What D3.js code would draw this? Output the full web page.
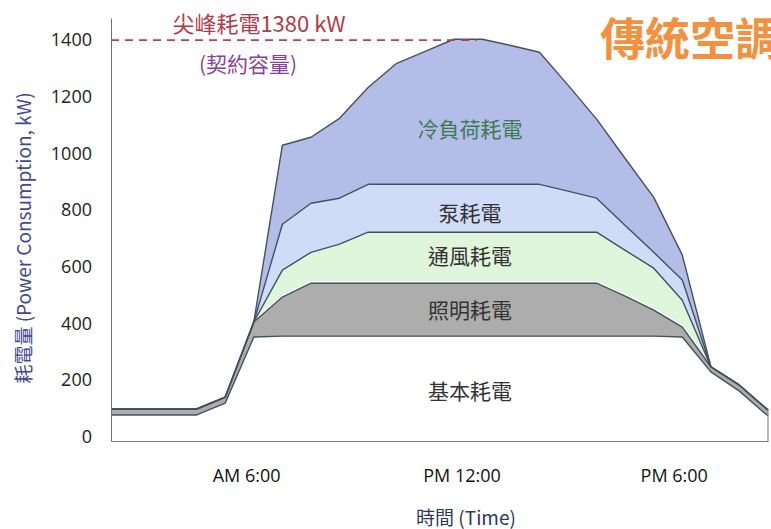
<!DOCTYPE html>
<html>
<head>
    <meta charset="utf-8" />
    <title>傳統空調 耗電</title>
    <script src="https://d3js.org/d3.v7.min.js"></script>
    <style>
    body { margin: 0; background: #fff; }
    svg { display: block; font-family: "Open Sans", "Noto Sans CJK TC", sans-serif; }
    .cjk { font-family: "Noto Sans CJK TC", "Open Sans", sans-serif; }
    </style>
</head>
<body>
<svg id="chart" width="771" height="529"></svg>
<script>
// hourly sample slots along the day (0 .. 23)
var slots = [0,1,2,3,4,5,6,7,8,9,10,11,12,13,14,15,16,17,18,19,20,21,22,23];

// kW per layer
var baseLoad    = [77,77,77,77,119,352,355,355,355,355,355,355,355,355,355,355,355,355,355,355,352,229,161,73];
var lighting    = [21,21,21,21,21,53,138,187,187,187,187,187,187,187,187,187,187,187,141,92,35,18,21,21];
var ventilation = [0,0,0,0,0,0,95,109,138,180,180,180,180,180,180,180,180,180,162,148,95,0,0,0];
var pump        = [0,0,0,0,0,0,162,173,162,169,169,169,169,169,169,169,145,120,88,56,71,0,0,0];
var cooling     = [0,0,0,0,0,0,279,233,282,342,427,469,512,512,490,466,374,279,236,194,88,0,0,0];

var layerKeys   = ["base", "light", "vent", "pump", "cool"];
var layerNames  = ["基本耗電", "照明耗電", "通風耗電", "泵耗電", "冷負荷耗電"];
var layerColors = ["#ffffff", "#adadad", "#dff6dc", "#cfdbf7", "#b4bde7"];

var yTicks = [0, 200, 400, 600, 800, 1000, 1200, 1400];
var xTickSlots  = [4.73, 12.27, 19.7];
var xTickLabels = ["AM 6:00", "PM 12:00", "PM 6:00"];

var peakValue = 1400;   // dashed contract line
var peakEndSlot = 12.8;

var table = slots.map(function(s, i) {
    return { slot: s, base: baseLoad[i], light: lighting[i], vent: ventilation[i], pump: pump[i], cool: cooling[i] };
});

var svg = d3.select("#chart");

var x = d3.scaleLinear().domain([0, 23]).range([111, 768]);
var y = d3.scaleLinear().domain([-15, 1478]).range([441, 18]);

var series = d3.stack().keys(layerKeys)(table);

var area = d3.area()
    .x(function(d) { return x(d.data.slot); })
    .y0(function(d) { return y(d[0]); })
    .y1(function(d) { return y(d[1]); });

var topLine = d3.line()
    .x(function(d) { return x(d.data.slot); })
    .y(function(d) { return y(d[1]); });

// fills
svg.append("g").selectAll("path")
    .data(series)
    .enter().append("path")
    .attr("d", area)
    .attr("fill", function(d, i) { return layerColors[i]; });

// white highlight above the lighting band
svg.append("path")
    .datum(series[1])
    .attr("d", topLine)
    .attr("transform", "translate(0,-1.6)")
    .attr("fill", "none")
    .attr("stroke", "#ffffff")
    .attr("stroke-width", 1.2);

// outlines on top of every layer
svg.append("g").selectAll("path")
    .data(series)
    .enter().append("path")
    .attr("d", topLine)
    .attr("fill", "none")
    .attr("stroke", "#46505e")
    .attr("stroke-width", 1.4)
    .attr("stroke-linejoin", "round");

// right closing edge
var last = series[series.length - 1][slots.length - 1];
svg.append("line")
    .attr("x1", x(23)).attr("x2", x(23))
    .attr("y1", y(last[1])).attr("y2", y(-15))
    .attr("stroke", "#8a8a8a").attr("stroke-width", 1.2);

// axes
var yAxis = svg.append("g")
    .attr("transform", "translate(111,0)")
    .call(d3.axisLeft(y).tickValues(yTicks).tickSize(0).tickPadding(19).tickFormat(d3.format("d")));
yAxis.select(".domain").attr("stroke", "#6f6f6f");
yAxis.selectAll("text").attr("font-size", 18).attr("fill", "#222")
    .attr("font-family", "'Open Sans', sans-serif");

var xAxis = svg.append("g")
    .attr("transform", "translate(0,441)")
    .call(d3.axisBottom(x).tickValues(xTickSlots).tickSize(0).tickPadding(28)
        .tickFormat(function(d, i) { return xTickLabels[i]; }));
xAxis.select(".domain").attr("stroke", "#7a7a7a").attr("stroke-width", 1.2);
xAxis.selectAll("text").attr("font-size", 18).attr("fill", "#111")
    .attr("font-family", "'Open Sans', sans-serif");

// peak / contract line
svg.append("line")
    .attr("x1", x(0)).attr("x2", x(peakEndSlot))
    .attr("y1", y(peakValue)).attr("y2", y(peakValue))
    .attr("stroke", "#c0404f").attr("stroke-width", 1.6)
    .attr("stroke-dasharray", "8,6");

svg.append("text")
    .attr("class", "cjk")
    .attr("x", 259).attr("y", 22)
    .attr("text-anchor", "middle").attr("dominant-baseline", "central")
    .attr("font-size", 22).attr("fill", "#b23b4b")
    .text("尖峰耗電1380 kW");

svg.append("text")
    .attr("class", "cjk")
    .attr("x", 248).attr("y", 63)
    .attr("text-anchor", "middle").attr("dominant-baseline", "central")
    .attr("font-size", 21).attr("fill", "#8b3f9b")
    .text("(契約容量)");

// layer labels
var labelY = [390, 309, 255, 212, 128];
var labelColors = ["#333", "#333", "#333", "#333", "#3b7a52"];
svg.append("g").selectAll("text")
    .data(layerNames)
    .enter().append("text")
    .attr("class", "cjk")
    .attr("x", 470)
    .attr("y", function(d, i) { return labelY[i]; })
    .attr("text-anchor", "middle").attr("dominant-baseline", "central")
    .attr("font-size", 21)
    .attr("fill", function(d, i) { return labelColors[i]; })
    .text(function(d) { return d; });

// titles
svg.append("text")
    .attr("class", "cjk")
    .attr("x", 600).attr("y", 36)
    .attr("dominant-baseline", "central")
    .attr("font-size", 45).attr("font-weight", "bold").attr("fill", "#f5913e")
    .text("傳統空調");

svg.append("text")
    .attr("class", "cjk")
    .attr("transform", "translate(22,238) rotate(-90)")
    .attr("text-anchor", "middle").attr("dominant-baseline", "central")
    .attr("font-size", 19).attr("fill", "#45488f")
    .text("耗電量 (Power Consumption, kW)");

svg.append("text")
    .attr("class", "cjk")
    .attr("x", 466).attr("y", 516)
    .attr("text-anchor", "middle").attr("dominant-baseline", "central")
    .attr("font-size", 19).attr("fill", "#2f3a5a")
    .text("時間 (Time)");
</script>
</body>
</html>
